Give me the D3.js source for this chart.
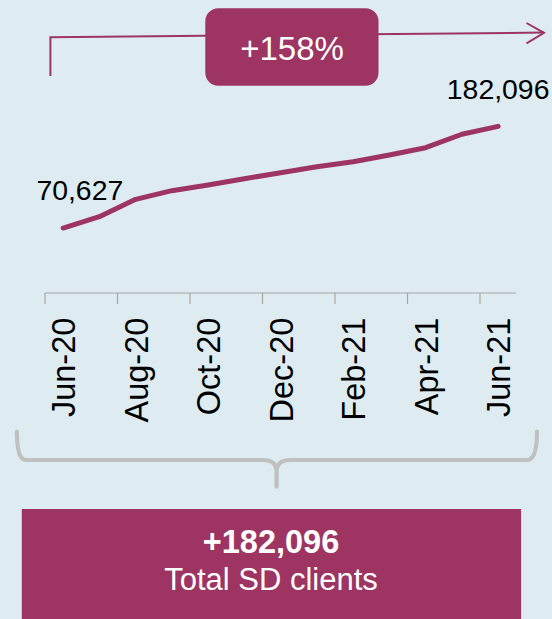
<!DOCTYPE html>
<html>
<head>
<meta charset="utf-8">
<script src="https://cdn.jsdelivr.net/npm/d3@7"></script>
<style>
  html, body { margin: 0; padding: 0; background: #deecf2; }
  svg { display: block; font-family: "Liberation Sans", Arial, sans-serif; }
</style>
</head>
<body>
<svg id="chart" width="552" height="619"></svg>
<script>
// Monthly SD client counts, Jun-20 to Jun-21
const months = ["Jun-20","Jul-20","Aug-20","Sep-20","Oct-20","Nov-20","Dec-20",
                "Jan-21","Feb-21","Mar-21","Apr-21","May-21","Jun-21"];
const clients = [70627, 83100, 102100, 111600, 117800, 124700, 131300,
                 137900, 143300, 150700, 158700, 173400, 182096];
const tickLabels = ["Jun-20","Aug-20","Oct-20","Dec-20","Feb-21","Apr-21","Jun-21"];
const growthLabel = "+158%";
const totalLabel = "+182,096";
const totalCaption = "Total SD clients";

const plum = "#9d3462";
const grey = "#a6a6a6";
const svg = d3.select("#chart");
const fmt = d3.format(",");

const x = d3.scaleBand().domain(months).range([45, 516.25]).padding(0);
const y = d3.scaleLinear().domain([0, 200000]).range([292.5, 110]);
const axisY = 293;

// Category axis: line plus tick marks between every second month
svg.append("line")
  .attr("x1", x.range()[0]).attr("x2", x.range()[1])
  .attr("y1", axisY).attr("y2", axisY)
  .attr("stroke", grey).attr("stroke-width", 1.2);

svg.selectAll(".tick")
  .data(tickLabels)
  .join("line")
  .attr("class", "tick")
  .attr("x1", d => x(d)).attr("x2", d => x(d))
  .attr("y1", axisY).attr("y2", axisY + 11)
  .attr("stroke", grey).attr("stroke-width", 1.2);

svg.selectAll(".tlabel")
  .data(tickLabels)
  .join("text")
  .attr("class", "tlabel")
  .attr("transform", d => `translate(${x(d) + x.bandwidth() / 2},317.7) rotate(-90)`)
  .attr("text-anchor", "end")
  .attr("dy", "0.38em")
  .attr("font-size", 32.5)
  .attr("fill", "#000")
  .text(d => d);

// Client trend line
const line = d3.line()
  .x((d, i) => x(months[i]) + x.bandwidth() / 2)
  .y(d => y(d));

svg.append("path")
  .datum(clients)
  .attr("d", line)
  .attr("fill", "none")
  .attr("stroke", plum)
  .attr("stroke-width", 5)
  .attr("stroke-linecap", "round")
  .attr("stroke-linejoin", "round");

// End-point value labels
const first = clients[0], last = clients[clients.length - 1];
svg.append("text")
  .attr("x", x(months[0]) + x.bandwidth() / 2 + 16.7)
  .attr("y", y(first) - 28)
  .attr("text-anchor", "middle")
  .attr("font-size", 28.4)
  .text(fmt(first));

svg.append("text")
  .attr("x", x(months[months.length - 1]) + x.bandwidth() / 2)
  .attr("y", y(last) - 27.3)
  .attr("text-anchor", "middle")
  .attr("font-size", 28.4)
  .text(fmt(last));

// Growth connector arrow over the period
svg.append("path")
  .attr("d", "M50.4,76 L50.4,37.3 L544,32.6")
  .attr("fill", "none")
  .attr("stroke", plum)
  .attr("stroke-width", 2);
svg.append("path")
  .attr("d", "M526.5,23 L544,32.8 L526.5,43.3")
  .attr("fill", "none")
  .attr("stroke", plum)
  .attr("stroke-width", 2);

svg.append("rect")
  .attr("x", 205.3).attr("y", 8.3)
  .attr("width", 173.2).attr("height", 77.4)
  .attr("rx", 13).attr("ry", 13)
  .attr("fill", plum);
svg.append("text")
  .attr("x", 292).attr("y", 60)
  .attr("text-anchor", "middle")
  .attr("font-size", 33)
  .attr("fill", "#fff")
  .text(growthLabel);

// Brace grouping the whole period
svg.append("path")
  .attr("d", "M16.9,431.7 Q16.9,460 26,460 L263,460 Q276.6,460 276.6,472 L276.6,486.7 M276.6,472 Q276.6,460 290,460 L527,460 Q537,460 537,431.7")
  .attr("fill", "none")
  .attr("stroke", "#c0c0c0")
  .attr("stroke-width", 4.2)
  .attr("stroke-linecap", "round");

// Total box
svg.append("rect")
  .attr("x", 21.8).attr("y", 509)
  .attr("width", 499.3).attr("height", 115)
  .attr("fill", plum);
svg.append("text")
  .attr("x", 271).attr("y", 553.3)
  .attr("text-anchor", "middle")
  .attr("font-size", 32.5)
  .attr("font-weight", "bold")
  .attr("fill", "#fff")
  .text(totalLabel);
svg.append("text")
  .attr("x", 271).attr("y", 590)
  .attr("text-anchor", "middle")
  .attr("font-size", 31)
  .attr("fill", "#fff")
  .text(totalCaption);
</script>
</body>
</html>
